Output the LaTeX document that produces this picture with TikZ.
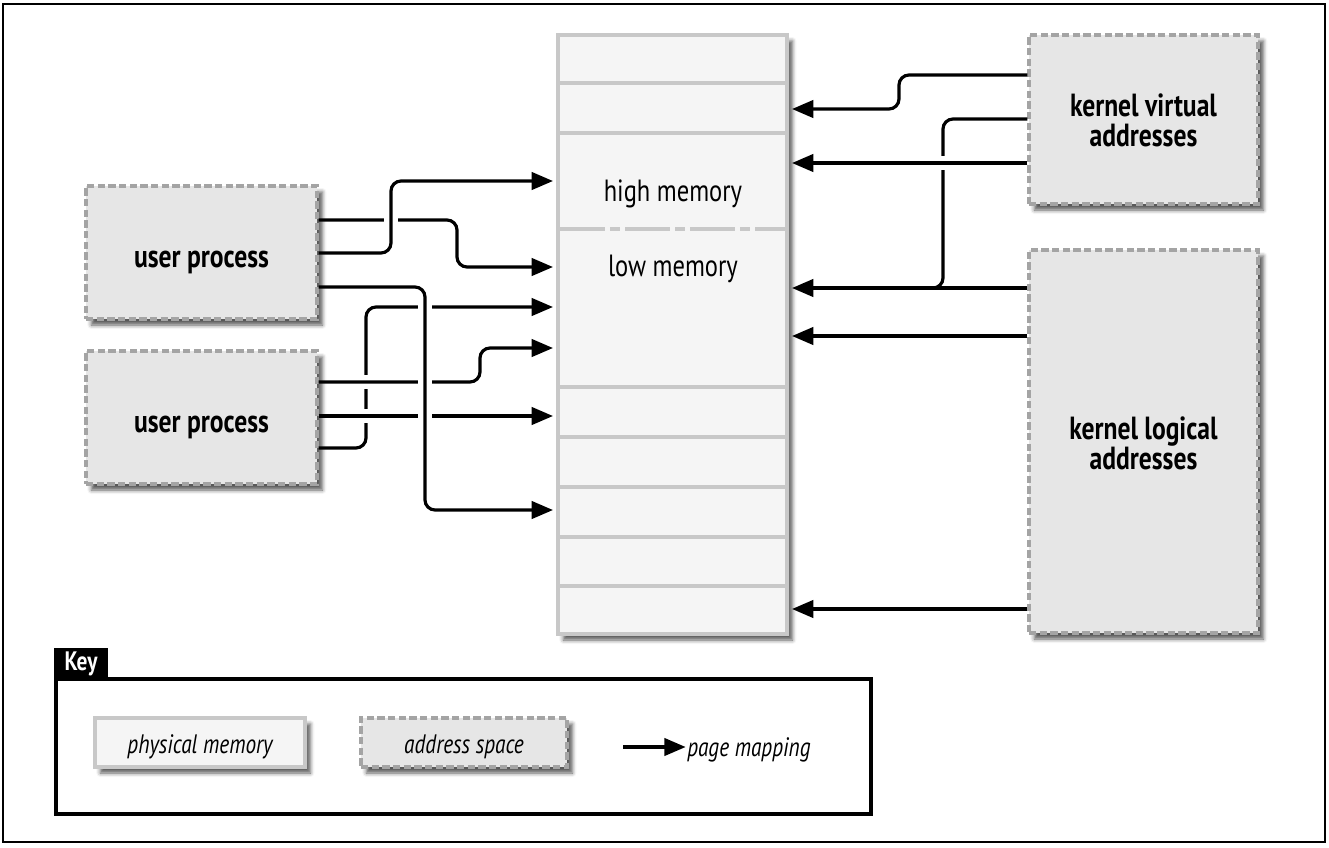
\documentclass[tikz,border=0pt]{standalone}
\usepackage{fontspec}
\setmainfont{PT Sans}[FakeStretch=0.8]
\usetikzlibrary{arrows.meta,shadows.blur,fit}
\definecolor{memfill}{HTML}{F5F5F5}
\definecolor{memline}{HTML}{C8C8C8}
\definecolor{asfill}{HTML}{E6E6E6}
\definecolor{asline}{HTML}{A4A4A4}
\tikzset{
  softshadow/.style={blur shadow={shadow xshift=4pt,shadow yshift=-4.5pt,shadow blur radius=3pt,shadow opacity=65}},
  physbox/.style={draw=memline, fill=memfill, line width=3pt, inner sep=0pt, softshadow},
  addrbox/.style={draw=asline, fill=asfill, line width=2.5pt, dash pattern=on 5.5pt off 2.5pt, inner sep=0pt, softshadow},
  mapping/.style={line width=2.4pt, rounded corners=7.5pt, -{Triangle[length=16pt,width=13pt]}},
  link/.style={line width=2.4pt, rounded corners=7.5pt},
  halo/.style={draw=white, line width=10.5pt},
  divider/.style={draw=memline, line width=3pt},
  boldlabel/.style={font=\fontsize{24}{22.5}\selectfont\bfseries, align=center, inner sep=0pt},
  memlabel/.style={font=\fontsize{23}{22.5}\selectfont, inner sep=0pt},
  keylabel/.style={font=\fontsize{20}{20}\selectfont\itshape, inner sep=0pt},
}
\begin{document}
\begin{tikzpicture}[x=0.75pt,y=-0.75pt]
\useasboundingbox (0,0) rectangle (1329,847);
\node[fit={(3,4) (1325,842)}, draw, line width=1.2pt, inner sep=0pt] (frame) {};

% physical memory column
\node[physbox, fit={(558,35) (787,634)}] (mem) {};
\coordinate (memL) at ([xshift=-2.25pt]mem.west);
\coordinate (memR) at ([xshift=2.25pt]mem.east);
\foreach \yy in {83,133,387,437,487,537,586}
  \draw[divider] (mem.west |- 0,\yy) ++(2.25pt,0) -- ([xshift=-2.25pt]mem.east |- 0,\yy);
\draw[divider, dash pattern=on 33.75pt off 3.75pt on 7.5pt off 3.75pt] (560,229) -- (785,229);
\node[memlabel] (hm) at (673,194) {high memory};
\node[memlabel] (lm) at (673,269) {low memory};

% address spaces
\node[addrbox, fit={(86,186) (317,319)}] (up1) {};
\node[boldlabel] (up1t) at ([yshift=-7.5pt]up1.center) {user process};
\node[addrbox, fit={(86,351) (317,484)}] (up2) {};
\node[boldlabel] (up2t) at ([yshift=-7.5pt]up2.center) {user process};
\node[addrbox, fit={(1029,35) (1258,204)}] (kv) {};
\node[boldlabel] (kvt) at ([yshift=-1pt]kv.center) {kernel virtual\\addresses};
\node[addrbox, fit={(1029,250) (1258,633)}] (kl) {};
\node[boldlabel] (klt) at ([yshift=-1.5pt]kl.center) {kernel logical\\addresses};

% lines passing underneath
\draw[mapping] (up1.east |- 0,220) -| (457,267) -- (memL |- 0,267);
\draw[mapping] (up2.east |- 0,448) -| (366,307) -- (memL |- 0,307);
\draw[link] (kv.west |- 0,119) -| (943,288) -- (915,288);
\draw[mapping] (kv.west |- 0,75) -| (899,109) -- (memR |- 0,109);
\draw[mapping] (kl.west |- 0,288) -- (memR |- 0,288);
\draw[mapping] (kl.west |- 0,336) -- (memR |- 0,336);
\draw[mapping] (kl.west |- 0,609) -- (memR |- 0,609);

% lines passing over
\draw[halo] (391,211) -- (391,229);
\draw[mapping] (up1.east |- 0,253) -| (391,181) -- (memL |- 0,181);
\draw[halo] (359,382) -- (373,382);
\draw[mapping] (up2.east |- 0,382) -| (480,348) -- (memL |- 0,348);
\draw[halo] (359,416) -- (373,416);
\draw[mapping] (up2.east |- 0,416) -- (memL |- 0,416);
\draw[halo] (936,163) -- (950,163);
\draw[mapping] (kv.west |- 0,163) -- (memR |- 0,163);
\draw[halo] (425,299) -- (425,315);
\draw[halo] (425,374) -- (425,390);
\draw[halo] (425,408) -- (425,424);
\draw[mapping] (up1.east |- 0,287) -| (425,510) -- (memL |- 0,510);

% key
\node[fit={(56,678.5) (871,813.5)}, draw, line width=3pt, inner sep=0pt] (keyframe) {};
\node[fit={(54,648) (108,677)}, fill=black, inner sep=0pt] (keytitle) {};
\node[text=white, font=\fontsize{20}{20}\selectfont\bfseries, inner sep=0pt] (keytext) at ([yshift=-1pt]keytitle.center) {Key};
\node[physbox, fit={(95,718) (305,767)}] (kphys) {};
\node[keylabel] (kphyst) at ([yshift=-3.5pt]kphys.center) {physical memory};
\node[addrbox, fit={(361,718) (567,767)}] (kaddr) {};
\node[keylabel] (kaddrt) at ([yshift=-3.5pt]kaddr.center) {address space};
\node[keylabel, anchor=west] (kmap) at (687,750) {page mapping};
\coordinate (kmapstart) at (623,747);
\draw[mapping] (kmapstart) -- ([xshift=-1pt]kmap.west |- kmapstart);
\end{tikzpicture}
\end{document}
